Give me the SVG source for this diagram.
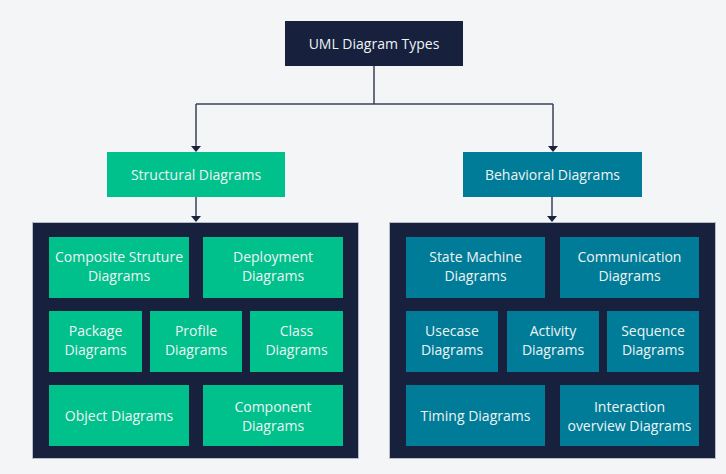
<svg xmlns="http://www.w3.org/2000/svg" width="726" height="474" viewBox="0 0 726 474">
  <defs>
    <marker id="arr" markerWidth="10" markerHeight="6" refX="5" refY="6" orient="auto" markerUnits="userSpaceOnUse" viewBox="0 0 10 6">
      <path d="M0,0 L10,0 L5,6 Z" fill="#1B2240"/>
    </marker>
    <style>
      .bg { fill: #F4F5F7; }
      .dark { fill: #17203D; }
      .green { fill: #00C08B; }
      .teal { fill: #007C98; }
      .container { fill: #17203D; stroke: #B9BCC6; stroke-width: 1; }
      .lbl { font-family: "Open Sans", "Noto Sans", "Liberation Sans", sans-serif; font-size: 14px; fill: #EEF4F4; text-anchor: middle; }
      .conn { fill: none; stroke: #3A4058; stroke-width: 1.5; }
    </style>
  </defs>
  <rect class="bg" x="0" y="0" width="726" height="474"/>

  <g id="connectors">
    <path class="conn" d="M374,66 V104 M196,104 H553 M196,104 V146 M553,104 V146" />
    <path d="M191,146 L201,146 L196,152 Z" fill="#1B2240"/>
    <path d="M548,146 L558,146 L553,152 Z" fill="#1B2240"/>
    <path class="conn" d="M196,197 V216 M552,197 V216" />
    <path d="M191,216 L201,216 L196,222 Z" fill="#1B2240"/>
    <path d="M547,216 L557,216 L552,222 Z" fill="#1B2240"/>
  </g>

  <g id="root">
    <rect class="dark" x="285" y="21" width="178" height="45"/>
    <text class="lbl" x="374" y="48.5">UML Diagram Types</text>
  </g>

  <g id="structural">
    <rect class="green" x="107" y="152" width="178" height="45"/>
    <text class="lbl" x="196" y="179.5">Structural Diagrams</text>
  </g>

  <g id="behavioral">
    <rect class="teal" x="463" y="152" width="179" height="45"/>
    <text class="lbl" x="552.5" y="179.5">Behavioral Diagrams</text>
  </g>

  <g id="structural-group">
    <rect class="container" x="32.5" y="222.5" width="326" height="236"/>
  </g>
  <g id="composite">
    <rect class="green" x="49" y="237" width="140" height="61"/>
    <text class="lbl" x="119" y="262">Composite Struture</text>
    <text class="lbl" x="119" y="281">Diagrams</text>
  </g>
  <g id="deployment">
    <rect class="green" x="203" y="237" width="140" height="61"/>
    <text class="lbl" x="273" y="262">Deployment</text>
    <text class="lbl" x="273" y="281">Diagrams</text>
  </g>
  <g id="package">
    <rect class="green" x="49" y="311" width="93" height="61"/>
    <text class="lbl" x="95.5" y="336">Package</text>
    <text class="lbl" x="95.5" y="355">Diagrams</text>
  </g>
  <g id="profile">
    <rect class="green" x="150" y="311" width="92" height="61"/>
    <text class="lbl" x="196" y="336">Profile</text>
    <text class="lbl" x="196" y="355">Diagrams</text>
  </g>
  <g id="class">
    <rect class="green" x="250" y="311" width="93" height="61"/>
    <text class="lbl" x="296.5" y="336">Class</text>
    <text class="lbl" x="296.5" y="355">Diagrams</text>
  </g>
  <g id="object">
    <rect class="green" x="49" y="385" width="140" height="61"/>
    <text class="lbl" x="119" y="421">Object Diagrams</text>
  </g>
  <g id="component">
    <rect class="green" x="203" y="385" width="140" height="61"/>
    <text class="lbl" x="273" y="412">Component</text>
    <text class="lbl" x="273" y="431">Diagrams</text>
  </g>

  <g id="behavioral-group">
    <rect class="container" x="389.5" y="222.5" width="326" height="236"/>
  </g>
  <g id="state-machine">
    <rect class="teal" x="406" y="237" width="139" height="61"/>
    <text class="lbl" x="475.5" y="262">State Machine</text>
    <text class="lbl" x="475.5" y="281">Diagrams</text>
  </g>
  <g id="communication">
    <rect class="teal" x="560" y="237" width="139" height="61"/>
    <text class="lbl" x="629.5" y="262">Communication</text>
    <text class="lbl" x="629.5" y="281">Diagrams</text>
  </g>
  <g id="usecase">
    <rect class="teal" x="406" y="311" width="92" height="61"/>
    <text class="lbl" x="452" y="336">Usecase</text>
    <text class="lbl" x="452" y="355">Diagrams</text>
  </g>
  <g id="activity">
    <rect class="teal" x="507" y="311" width="92" height="61"/>
    <text class="lbl" x="553" y="336">Activity</text>
    <text class="lbl" x="553" y="355">Diagrams</text>
  </g>
  <g id="sequence">
    <rect class="teal" x="607" y="311" width="92" height="61"/>
    <text class="lbl" x="653" y="336">Sequence</text>
    <text class="lbl" x="653" y="355">Diagrams</text>
  </g>
  <g id="timing">
    <rect class="teal" x="406" y="385" width="139" height="61"/>
    <text class="lbl" x="475.5" y="421">Timing Diagrams</text>
  </g>
  <g id="interaction-overview">
    <rect class="teal" x="560" y="385" width="139" height="61"/>
    <text class="lbl" x="629.5" y="412">Interaction</text>
    <text class="lbl" x="629.5" y="431">overview Diagrams</text>
  </g>
</svg>
